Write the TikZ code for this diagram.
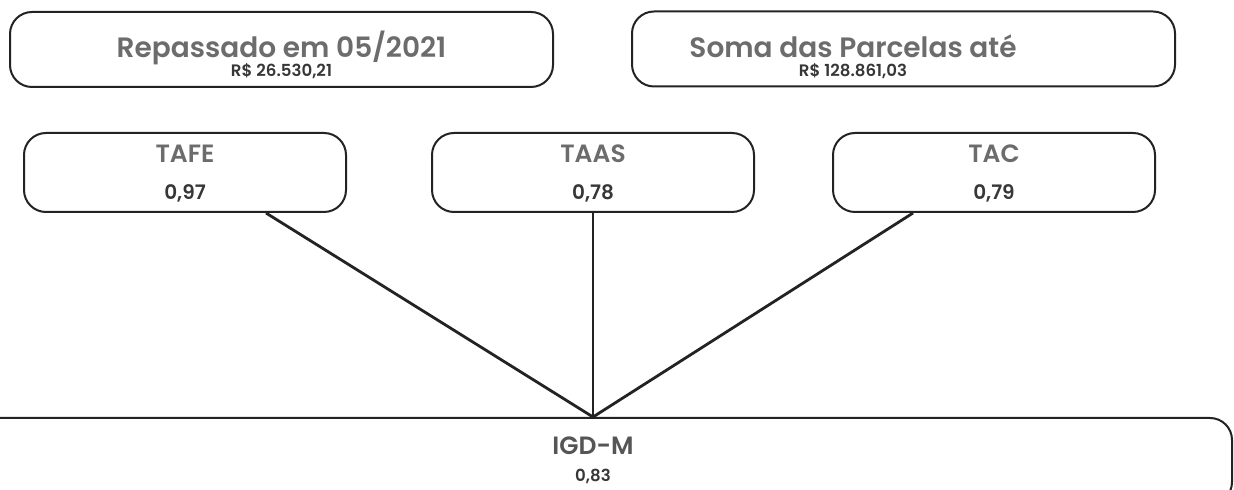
\documentclass[tikz,border=0pt]{standalone}
\usepackage{fontspec}
\setmainfont{Poppins}[BoldFont={Poppins SemiBold}]
\usetikzlibrary{calc}
\definecolor{TitleGray}{RGB}{108,108,108}
\definecolor{ValueGray}{RGB}{55,55,55}
\definecolor{LineGray}{RGB}{35,35,35}

\tikzset{
	box/.style={draw=LineGray, line width=1pt, rounded corners=11pt, inner sep=0pt},
	topbox/.style={box, minimum width=271.5pt, minimum height=37.5pt},
	midbox/.style={box, minimum width=161pt, minimum height=39.5pt},
	title/.style={font=\fontsize{14}{16}\selectfont\bfseries, text=TitleGray, anchor=base, inner sep=0pt},
	valor/.style={font=\fontsize{8.3}{10}\selectfont\bfseries, text=ValueGray, anchor=base, inner sep=0pt},
	sigla/.style={font=\fontsize{12.5}{14}\selectfont\bfseries, text=TitleGray, anchor=base, inner sep=0pt},
	indice/.style={font=\fontsize{10}{12}\selectfont\bfseries, text=ValueGray, anchor=base, inner sep=0pt},
	ramo/.style={draw=LineGray, line width=1.4pt}
}

\begin{document}
\begin{tikzpicture}[x=0.5pt, y=-0.5pt]
		\useasboundingbox[fill=white] (0,0) rectangle (1234,490);
		\clip (0,0) rectangle (1234,490);
		
		% valores repassados
		\node[topbox] (repasse) at (281.5,49.5) {};
		\node[title] (repasse-t) at (281.5,58) {Repassado em 05/2021};
		\node[valor] (repasse-v) at (281.5,77) {R\$ 26.530,21};
		
		\node[topbox] (soma) at (903.5,49) {};
		\node[title] (soma-t) at (853,58) {Soma das Parcelas até};
		\node[valor] (soma-v) at (853,77) {R\$ 128.861,03};
		
		% indicadores
		\node[midbox] (tafe) at (185,172.5) {};
		\node[sigla] at (185,163) {TAFE};
		\node[indice] at (185,200) {0,97};
		
		\node[midbox] (taas) at (593,172.5) {};
		\node[sigla] at (593,163) {TAAS};
		\node[indice] at (593,200) {0,78};
		
		\node[midbox] (tac) at (994,172.5) {};
		\node[sigla] at (994,163) {TAC};
		\node[indice] at (994,200) {0,79};
		
		% indice final
		\node[box, minimum width=639pt, minimum height=43pt] (igdm) at (593,461) {};
		\node[sigla, text=ValueGray!85] at (593,455) {IGD-M};
		\node[valor] at (593,481) {0,83};
		
		% ligacoes
		\draw[ramo] ($(tafe.south)!0.5!(tafe.south east)$) -- (igdm.north);
		\draw[ramo] (taas.south) -- (igdm.north);
		\draw[ramo] ($(tac.south)!0.5!(tac.south west)$) -- (igdm.north);
	\end{tikzpicture}
\end{document}
